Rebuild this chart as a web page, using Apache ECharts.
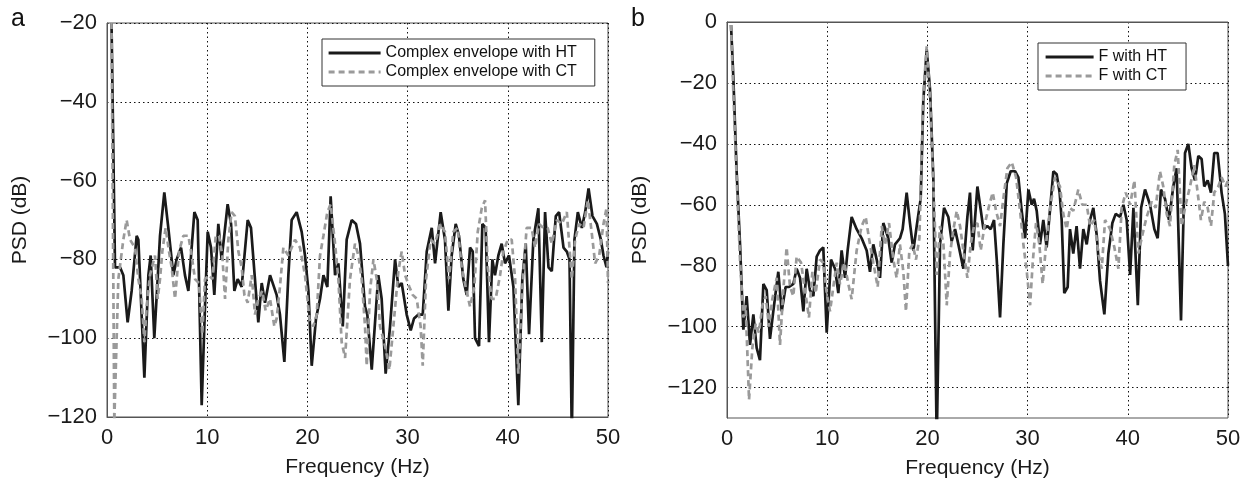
<!DOCTYPE html>
<html>
<head>
<meta charset="utf-8">
<script src="https://cdn.jsdelivr.net/npm/echarts@6/dist/echarts.min.js"></script>
<style>html,body{margin:0;background:#fff}#chart{width:1260px;height:487px}</style>
</head>
<body>
<div id="chart"></div>
<script>
// [frequency (Hz), PSD (dB)]
var aHT = [[0.45,-20],[0.8,-82],[1.3,-82],[1.63,-84],[2.06,-96],[2.46,-88],[2.96,-74],[3.13,-75],[3.73,-110],[4.13,-84],[4.36,-79],[4.72,-100],[5.12,-82],[5.29,-74],[5.72,-63],[6.12,-72],[6.62,-84],[6.95,-80],[7.39,-77],[7.78,-84],[8.12,-88],[8.72,-68],[9.05,-70],[9.45,-117],[9.78,-92],[10.05,-73],[10.38,-77],[10.71,-89],[11.11,-71],[11.44,-80],[12.04,-66],[12.38,-71],[12.71,-88],[13.04,-85],[13.44,-87],[14.04,-70],[14.37,-72],[15.1,-96],[15.44,-86],[15.77,-91],[16.27,-84],[16.93,-89],[17.26,-94],[17.7,-106],[18.1,-84],[18.43,-70],[18.93,-68],[19.43,-73],[19.76,-79],[20.1,-88],[20.43,-107],[20.86,-95],[21.26,-90],[21.6,-84],[21.99,-87],[22.32,-64],[22.76,-84],[23.09,-81],[23.53,-97],[23.92,-75],[24.42,-70],[24.85,-71],[25.25,-76],[25.75,-92],[25.98,-94],[26.42,-108],[27.08,-84],[27.41,-90],[27.81,-109],[28.25,-97],[28.75,-80],[29.08,-87],[29.41,-86],[29.91,-94],[30.31,-98],[30.64,-95],[31.08,-94],[31.51,-94],[31.91,-78],[32.41,-72],[32.74,-81],[33.3,-68],[33.73,-75],[34.07,-93],[34.4,-79],[34.8,-71],[35.13,-74],[35.56,-85],[35.9,-89],[36.23,-77],[36.5,-78],[36.73,-100],[37.13,-102],[37.46,-71],[37.79,-72],[38.12,-101],[38.46,-80],[38.72,-84],[39.06,-79],[39.39,-76],[39.72,-81],[40.12,-79],[40.56,-87],[41.05,-117],[41.45,-85],[41.79,-76],[42.12,-99],[42.55,-75],[43.05,-67],[43.39,-101],[43.72,-68],[44.06,-82],[44.39,-83],[44.79,-69],[45.12,-68],[45.56,-77],[45.89,-78],[46.16,-80],[46.39,-125],[46.65,-75],[46.99,-68],[47.39,-72],[47.72,-68],[48.06,-62],[48.45,-69],[48.89,-71],[49.29,-75],[49.55,-79],[49.85,-82],[50,-78]];
var aCT = [[0.45,-20],[0.73,-121],[1.13,-85],[1.63,-75],[1.96,-70],[2.3,-75],[2.79,-77],[3.13,-85],[3.46,-90],[3.73,-101],[3.96,-92],[4.29,-84],[4.79,-79],[5.06,-90],[5.29,-85],[5.52,-78],[5.85,-72],[6.19,-78],[6.45,-82],[6.79,-90],[7.19,-78],[7.62,-74],[8.12,-74],[8.45,-79],[8.78,-85],[9.18,-86],[9.51,-99],[9.78,-85],[10.18,-84],[10.51,-85],[10.85,-74],[11.18,-74],[11.51,-79],[11.78,-90],[12.11,-75],[12.44,-68],[12.77,-69],[13.11,-78],[13.44,-82],[13.71,-89],[14.04,-91],[14.44,-84],[14.77,-94],[15.1,-90],[15.5,-88],[15.83,-93],[16.27,-90],[16.7,-97],[16.93,-95],[17.26,-87],[17.6,-77],[18.1,-79],[18.76,-75],[19.26,-77],[19.76,-84],[20.2,-95],[20.59,-97],[20.93,-94],[21.26,-79],[21.6,-74],[21.99,-68],[22.32,-66],[22.76,-76],[23.09,-85],[23.42,-101],[23.76,-105],[24.25,-85],[24.75,-76],[25.09,-79],[25.42,-85],[25.75,-97],[25.92,-107],[26.25,-88],[26.59,-80],[26.92,-85],[27.25,-97],[27.75,-102],[28.18,-108],[28.58,-97],[29.08,-83],[29.41,-78],[29.75,-84],[30.18,-87],[30.51,-89],[30.91,-90],[31.3,-97],[31.51,-107],[31.84,-85],[32.31,-75],[32.74,-76],[33.24,-71],[33.73,-73],[34.13,-85],[34.56,-73],[34.99,-72],[35.4,-82],[35.8,-87],[36.23,-92],[36.66,-87],[37,-73],[37.4,-67],[37.73,-65],[38,-82],[38.39,-90],[38.79,-90],[39.23,-84],[39.56,-78],[40,-75],[40.39,-75],[40.73,-85],[41.05,-109],[41.45,-87],[41.88,-72],[42.38,-72],[42.72,-77],[43.12,-71],[43.55,-72],[43.98,-72],[44.39,-76],[44.89,-70],[45.39,-71],[45.89,-68],[46.39,-85],[46.72,-75],[47.12,-71],[47.56,-72],[47.99,-65],[48.32,-72],[48.72,-81],[49.12,-79],[49.55,-71],[49.85,-67],[50,-86]];
var bHT = [[0.4,-1],[0.63,-18],[0.96,-49],[1.3,-73],[1.63,-101],[1.96,-90],[2.3,-106],[2.63,-96],[2.96,-107],[3.29,-111],[3.63,-86],[3.96,-88],[4.29,-104],[4.62,-95],[5.12,-82],[5.46,-95],[5.85,-87],[6.19,-87],[6.62,-86],[6.95,-81],[7.29,-84],[7.62,-95],[7.95,-81],[8.28,-88],[8.62,-90],[8.95,-77],[9.28,-75],[9.61,-74],[9.95,-102],[10.38,-78],[10.78,-81],[11.11,-89],[11.44,-75],[11.78,-84],[12.04,-75],[12.44,-64],[12.94,-68],[13.44,-71],[13.94,-75],[14.27,-82],[14.6,-73],[14.94,-78],[15.27,-84],[15.6,-66],[16.1,-71],[16.43,-79],[16.77,-73],[17.26,-71],[17.53,-68],[17.93,-56],[18.26,-66],[18.6,-75],[18.93,-67],[19.33,-58],[19.59,-26],[19.93,-9],[20.26,-22],[20.59,-51],[20.93,-138],[21.26,-73],[21.66,-61],[22.09,-64],[22.42,-72],[22.76,-68],[23.09,-73],[23.59,-81],[23.99,-64],[24.25,-56],[24.52,-75],[24.99,-54],[25.25,-60],[25.59,-68],[25.98,-67],[26.32,-68],[26.65,-65],[26.92,-78],[27.25,-97],[27.58,-73],[27.92,-53],[28.31,-49],[28.75,-49],[29.08,-51],[29.41,-62],[29.75,-71],[30.08,-55],[30.41,-60],[30.64,-58],[30.91,-62],[31.24,-73],[31.57,-65],[31.9,-74],[32.23,-62],[32.57,-49],[32.9,-50],[33.2,-56],[33.4,-65],[33.66,-89],[34,-87],[34.23,-68],[34.56,-76],[34.89,-67],[35.23,-81],[35.56,-68],[35.9,-73],[36.23,-65],[36.56,-61],[36.9,-70],[37.23,-85],[37.66,-96],[38.06,-76],[38.46,-66],[38.79,-63],[39.23,-64],[39.56,-60],[39.89,-65],[40.23,-83],[40.56,-61],[41,-93],[41.33,-61],[41.72,-55],[42.22,-60],[42.65,-68],[42.98,-71],[43.31,-55],[43.71,-58],[44.11,-65],[44.54,-54],[44.87,-48],[45.31,-98],[45.71,-43],[46.04,-40],[46.37,-48],[46.7,-52],[47.04,-44],[47.37,-45],[47.63,-54],[47.97,-52],[48.3,-56],[48.63,-43],[48.96,-43],[49.36,-56],[49.69,-63],[50,-80]];
var bCT = [[0.4,-1],[0.63,-23],[0.96,-51],[1.3,-78],[1.63,-97],[1.86,-93],[2.2,-124],[2.53,-107],[2.86,-99],[3.19,-102],[3.53,-93],[3.86,-90],[4.19,-100],[4.52,-91],[4.96,-84],[5.29,-106],[5.62,-88],[5.95,-74],[6.29,-87],[6.62,-90],[6.95,-77],[7.39,-79],[7.78,-88],[8.18,-97],[8.52,-82],[8.85,-89],[9.28,-78],[9.61,-79],[9.95,-89],[10.28,-95],[10.61,-87],[10.95,-79],[11.28,-86],[11.71,-79],[12.11,-86],[12.44,-91],[12.94,-75],[13.44,-67],[13.84,-64],[14.17,-71],[14.6,-79],[15.04,-87],[15.44,-67],[15.77,-73],[16.17,-66],[16.6,-78],[16.93,-84],[17.26,-73],[17.6,-82],[17.86,-95],[18.2,-75],[18.53,-73],[18.86,-78],[19.2,-71],[19.59,-24],[19.93,-8],[20.26,-25],[20.59,-53],[20.93,-83],[21.26,-67],[21.6,-73],[21.93,-93],[22.26,-76],[22.6,-68],[22.93,-62],[23.26,-67],[23.59,-75],[23.99,-84],[24.32,-73],[24.65,-67],[24.99,-66],[25.32,-75],[25.75,-66],[26.18,-60],[26.52,-56],[26.85,-62],[27.25,-67],[27.58,-58],[27.98,-48],[28.42,-46],[28.85,-51],[29.25,-62],[29.58,-73],[29.92,-82],[30.25,-93],[30.51,-79],[30.84,-66],[31.17,-73],[31.5,-86],[31.9,-71],[32.3,-60],[32.73,-51],[33.23,-54],[33.56,-63],[33.9,-68],[34.23,-61],[34.56,-62],[35.06,-55],[35.46,-60],[35.9,-60],[36.23,-67],[36.66,-65],[37.06,-76],[37.4,-81],[37.73,-65],[38.23,-68],[38.66,-74],[39.06,-81],[39.39,-61],[39.79,-56],[40.23,-60],[40.66,-52],[41.05,-76],[41.45,-70],[41.88,-64],[42.38,-59],[42.78,-61],[43.21,-49],[43.54,-54],[43.88,-63],[44.21,-67],[44.64,-47],[44.98,-42],[45.38,-67],[45.77,-60],[46.21,-54],[46.64,-47],[46.97,-56],[47.3,-65],[47.63,-59],[47.97,-61],[48.3,-67],[48.63,-56],[49.03,-54],[49.36,-51],[49.76,-54],[50,-52]];

var namesA = ['Complex envelope with HT', 'Complex envelope with CT'];
var namesB = ['F with HT', 'F with CT'];
var freqTicks = [0, 10, 20, 30, 40, 50];

var font = '"Liberation Sans", Arial, Helvetica, sans-serif';
var chart = echarts.init(document.getElementById('chart'));

function minus(v) { return String(v).replace('-', '\u2212'); }

var gridLine = { show: true, lineStyle: { color: '#111', type: [1.5, 3], width: 1 } };
var axisLine = { show: true, lineStyle: { color: '#555', width: 1 } };
var labelStyle = { color: '#1a1a1a', fontSize: 22, fontFamily: font, margin: 10 };
var nameStyle = { color: '#1a1a1a', fontSize: 21, fontFamily: font };
var htColor = '#1a1a1a', ctColor = '#9a9a9a';

function xAxis(idx) {
    return {
        type: 'value', gridIndex: idx, min: freqTicks[0], max: freqTicks[freqTicks.length - 1], interval: 10,
        name: 'Frequency (Hz)', nameLocation: 'middle', nameGap: 40, nameTextStyle: nameStyle,
        axisLine: axisLine, axisTick: { show: false },
        axisLabel: labelStyle, splitLine: gridLine
    };
}

function legend(names, left, top, width, pad) {
    return {
        data: names, orient: 'vertical', left: left, top: top,
        itemWidth: width, itemHeight: 16, itemGap: 3, padding: pad,
        borderColor: '#333', borderWidth: 1, backgroundColor: '#fff',
        itemStyle: { opacity: 0 },
        lineStyle: { width: 3.2 },
        textStyle: { fontSize: 16, fontFamily: font, color: '#111' }
    };
}

var option = {
    animation: false,
    backgroundColor: '#fff',
    title: [
        { text: 'a', left: 6, top: 2, textStyle: { fontSize: 25, fontWeight: 'normal', fontFamily: font, color: '#111' } },
        { text: 'b', left: 626, top: 2, textStyle: { fontSize: 25, fontWeight: 'normal', fontFamily: font, color: '#111' } }
    ],
    grid: [
        { left: 107, top: 23, width: 501, height: 394, show: true, borderColor: '#555', borderWidth: 1 },
        { left: 727, top: 22, width: 501, height: 396, show: true, borderColor: '#555', borderWidth: 1 }
    ],
    legend: [
        legend(namesA, 322, 39, 52, [6, 18, 6, 5]),
        legend(namesB, 1038, 43, 48, [6, 19, 6, 6])
    ],
    xAxis: [xAxis(0), xAxis(1)],
    yAxis: [
        {
            type: 'value', gridIndex: 0, min: -120, max: -20, interval: 20,
            name: 'PSD (dB)', nameLocation: 'middle', nameGap: 76, nameTextStyle: nameStyle,
            axisLine: axisLine, axisTick: { show: false },
            axisLabel: Object.assign({}, labelStyle, { formatter: minus }),
            splitLine: gridLine
        },
        {
            // ticks every 10 so -130 can be the floor; only every other one is drawn
            type: 'value', gridIndex: 1, min: -130, max: 0, interval: 10,
            name: 'PSD (dB)', nameLocation: 'middle', nameGap: 76, nameTextStyle: nameStyle,
            axisLine: axisLine, axisTick: { show: false },
            axisLabel: Object.assign({}, labelStyle, {
                formatter: function (v) { return v % 20 === 0 ? minus(v) : ''; }
            }),
            splitLine: { show: true, lineStyle: { color: ['rgba(0,0,0,0)', '#111'], type: [1.5, 3], width: 1 } }
        }
    ],
    series: [
        { name: namesA[0], type: 'line', xAxisIndex: 0, yAxisIndex: 0, data: aHT, symbol: 'none',
          lineStyle: { color: htColor, width: 2.7 }, itemStyle: { color: htColor } },
        { name: namesA[1], type: 'line', xAxisIndex: 0, yAxisIndex: 0, data: aCT, symbol: 'none',
          lineStyle: { color: ctColor, width: 2.7, type: [6, 4] }, itemStyle: { color: ctColor } },
        { name: namesB[0], type: 'line', xAxisIndex: 1, yAxisIndex: 1, data: bHT, symbol: 'none',
          lineStyle: { color: htColor, width: 2.7 }, itemStyle: { color: htColor } },
        { name: namesB[1], type: 'line', xAxisIndex: 1, yAxisIndex: 1, data: bCT, symbol: 'none',
          lineStyle: { color: ctColor, width: 2.7, type: [6, 4] }, itemStyle: { color: ctColor } }
    ]
};
chart.setOption(option);
</script>
</body>
</html>
